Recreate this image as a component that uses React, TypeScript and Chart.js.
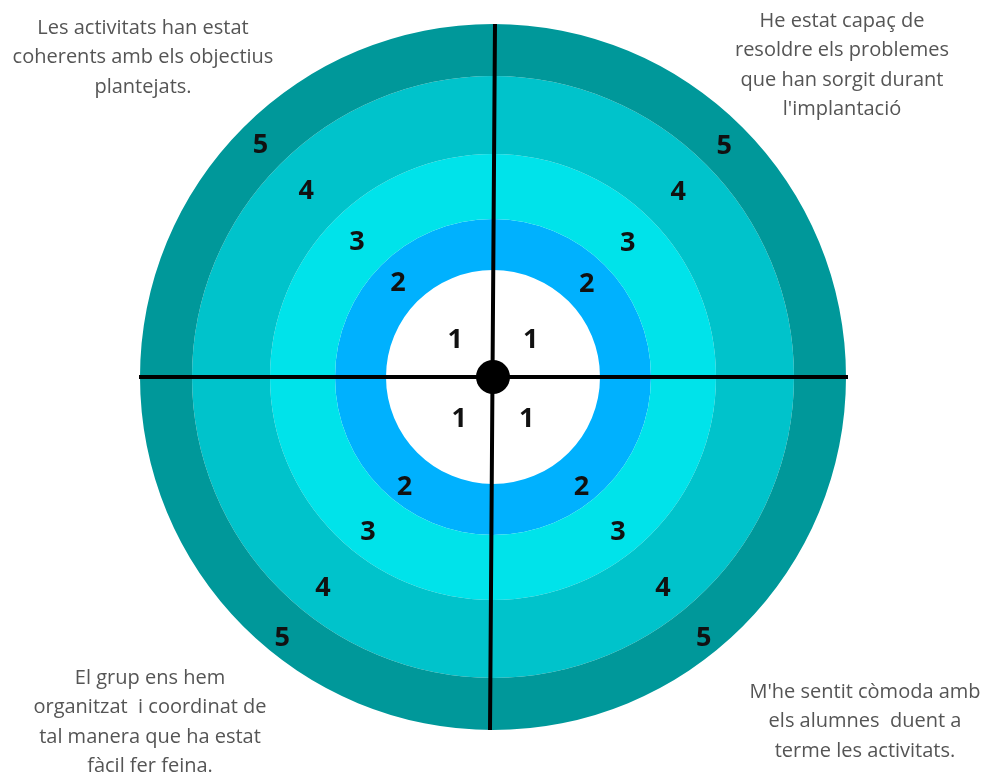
import React, { useEffect, useRef } from "react";
import { Chart, registerables } from "chart.js";

Chart.register(...registerables);

// Quadrants in drawing order (clockwise from 12 o'clock)
const quadrants = ["top-right", "bottom-right", "bottom-left", "top-left"];
const quadrantShares = [1, 1, 1, 1];
// Rings from outside to inside
const ringScores = ["5", "4", "3", "2", "1"];
const ringColors = ["#00989a", "#00c3cb", "#00e3ea", "#00b1fe", "#ffffff"];
// Statement for each quadrant (same order as quadrants)
const statements: string[][] = [
  ["He estat capaç de", "resoldre els problemes", "que han sorgit durant", "l'implantació"],
  ["M'he sentit còmoda amb", "els alumnes  duent a", "terme les activitats."],
  ["El grup ens hem", "organitzat  i coordinat de", "tal manera que ha estat", "fàcil fer feina."],
  ["Les activitats han estat", "coherents amb els objectius", "plantejats."],
];

const ringWeights = [52, 78, 65, 51, 107];
// label placement tweaks per quadrant: [angle shift (deg), radius shift (px)]
const labelTweaks: [number, number][] = [
  [0, 0],
  [6, 8],
  [-6, 8],
  [0, 2],
];

const targetPlugin = {
  id: "targetOverlay",
  afterDatasetsDraw(chart: any) {
    const ctx = chart.ctx as CanvasRenderingContext2D;
    const meta0 = chart.getDatasetMeta(0);
    const a0 = meta0.data[0];
    const cx = a0.x;
    const cy = a0.y;
    const R = a0.outerRadius;

    // ring numbers
    ctx.save();
    ctx.fillStyle = "#111";
    ctx.font = "bold 27px 'Open Sans', sans-serif";
    ctx.textAlign = "center";
    ctx.textBaseline = "middle";
    chart.data.datasets.forEach((ds: any, i: number) => {
      const meta = chart.getDatasetMeta(i);
      meta.data.forEach((arc: any, j: number) => {
        const p = arc.getProps(["startAngle", "endAngle", "innerRadius", "outerRadius", "x", "y"], true);
        const [da, dr] = labelTweaks[j];
        const ang = (p.startAngle + p.endAngle) / 2 + (da * Math.PI) / 180;
        const r = (p.innerRadius + p.outerRadius) / 2 + (p.innerRadius === 0 ? 0 : dr);
        ctx.fillText(ds.ringLabel, p.x + Math.cos(ang) * r, p.y + Math.sin(ang) * r + 1);
      });
    });
    ctx.restore();

    // cross lines
    ctx.save();
    ctx.strokeStyle = "#000";
    ctx.lineWidth = 4;
    ctx.beginPath();
    ctx.moveTo(cx - R - 1, cy);
    ctx.lineTo(cx + R + 2, cy);
    ctx.moveTo(cx + 2, cy - R);
    ctx.lineTo(cx - 3, cy + R);
    ctx.stroke();
    ctx.beginPath();
    ctx.arc(cx, cy, 17, 0, Math.PI * 2);
    ctx.fillStyle = "#000";
    ctx.fill();
    ctx.restore();

    // statements
    ctx.save();
    ctx.fillStyle = "#555";
    ctx.font = "20px 'Open Sans', sans-serif";
    ctx.textAlign = "center";
    ctx.textBaseline = "middle";
    const anchors: Record<string, [number, number]> = {
      "top-right": [842, 21],
      "bottom-right": [865, 692],
      "bottom-left": [150, 678],
      "top-left": [143, 28],
    };
    quadrants.forEach((q, k) => {
      const [x, y] = anchors[q];
      statements[k].forEach((line, li) => {
        ctx.fillText(line, x, y + li * 29.5);
      });
    });
    ctx.restore();
  },
};

export default function App() {
  const ref = useRef<HTMLCanvasElement | null>(null);
  useEffect(() => {
    if (!ref.current) return;
    const chart = new Chart(ref.current, {
      type: "doughnut",
      data: {
        labels: quadrants,
        datasets: ringScores.map((s, i) => ({
          ringLabel: s,
          data: quadrantShares,
          backgroundColor: ringColors[i],
          hoverBackgroundColor: ringColors[i],
          borderWidth: 0,
          weight: ringWeights[i],
        })) as any,
      },
      options: {
        responsive: false,
        animation: false,
        devicePixelRatio: 1,
        cutout: 0,
        layout: { padding: { left: 140, right: 144, top: 24, bottom: 48 } },
        plugins: {
          legend: { display: false },
          tooltip: { enabled: false },
        },
        events: [],
      } as any,
      plugins: [targetPlugin],
    });
    return () => chart.destroy();
  }, []);
  return (
    <div style={{ position: "fixed", left: 0, top: 0, width: 990, height: 778, background: "#fff" }}>
      <canvas ref={ref} width={990} height={778} style={{ width: 990, height: 778, display: "block" }} />
    </div>
  );
}
